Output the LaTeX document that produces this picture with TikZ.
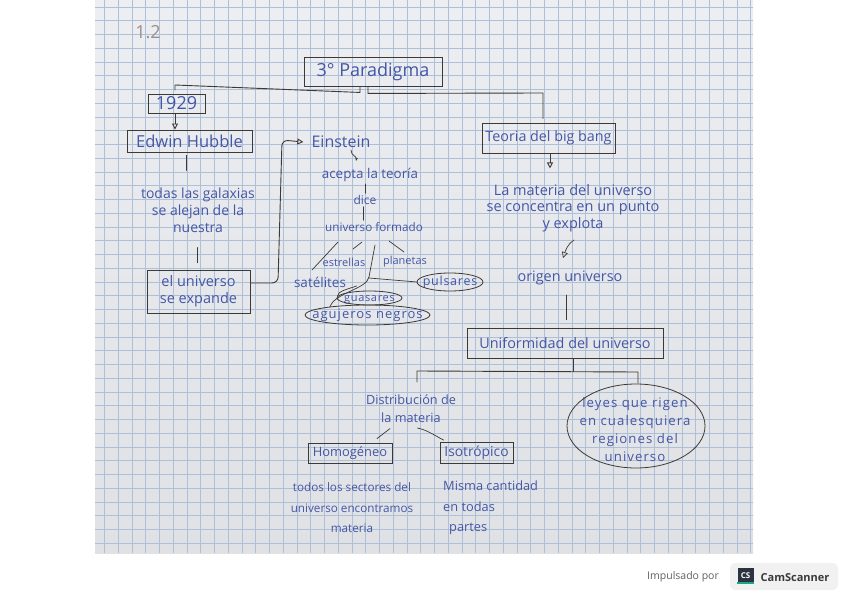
\documentclass[tikz,border=0pt]{standalone}
\usepackage{fontspec}
\setmainfont{Open Sans}
\usetikzlibrary{arrows.meta,shapes.geometric}
\definecolor{ink}{HTML}{4457A6}
\definecolor{pen}{HTML}{3D3935}
\definecolor{pencil}{HTML}{9C8F88}
\definecolor{paperTop}{HTML}{EDEEF1}
\definecolor{paperBot}{HTML}{E0E1E5}
\definecolor{gridc}{HTML}{AEBFD8}
\definecolor{badge}{HTML}{F1F1F1}
\definecolor{csdark}{HTML}{2B3240}
\definecolor{csgreen}{HTML}{1BA784}
\definecolor{camtext}{HTML}{3A3A3A}
\newcommand\hw[2]{\fontsize{#1pt}{#2pt}\selectfont}
\newcommand\wideletters[1]{\addfontfeatures{LetterSpace=#1}}
\tikzset{
  box/.style={draw=pen, line width=0.9pt, inner sep=0pt, text=ink, align=center},
  txt/.style={text=ink, inner sep=0pt, align=center},
  oval/.style={draw=pen, line width=0.8pt},
  con/.style={draw=pen, line width=0.9pt, line cap=round},
  arr/.style={con, -{Triangle[open, length=6pt, width=6pt]}},
  gridline/.style={draw=gridc, line width=0.6pt}
}
\begin{document}
\begin{tikzpicture}[x=1pt,y=-1pt]
\useasboundingbox (0,0) rectangle (848,599);
\fill[white] (0,0) rectangle (848,599);
\fill[top color=paperTop, bottom color=paperBot] (95,0) rectangle (753,553);
\foreach \i in {0,...,47} \draw[gridline] ({104.5+13.75*\i},0) -- ({104.5+13.75*\i},553);
\foreach \j in {0,...,39} \draw[gridline] (95,{7+13.75*\j}) -- (753,{7+13.75*\j});

% nodes
\node[txt, text=pencil, font=\hw{18}{20}] (num) at (148,32) {1.2};
\node[box, minimum width=138pt, minimum height=29pt, font=\hw{18}{20}] (para) at (373,71.5) {3° Paradigma};
\node[box, minimum width=57pt, minimum height=19pt, font=\hw{18}{20}] (y1929) at (176.5,103.5) {1929};
\node[box, minimum width=125pt, minimum height=22pt, font=\hw{16.5}{18}] (hubble) at (189.5,141) {Edwin Hubble};
\node[txt, font=\hw{14}{17}] (galax) at (198,210) {todas las galaxias\\se alejan de la\\nuestra};
\node[box, minimum width=103pt, minimum height=43pt, font=\hw{14.5}{17}] (expande) at (198.5,291.5) {el universo\\se expande};
\node[txt, font=\hw{16}{18}] (einstein) at (341,142) {Einstein};
\node[txt, font=\hw{13.4}{15}] (acepta) at (370,175) {acepta la teoría};
\node[txt, font=\hw{12}{14}] (dice) at (365,200) {dice};
\node[txt, font=\hw{11.7}{13}] (formado) at (374,227) {universo formado};
\node[txt, font=\hw{11}{13}] (estrellas) at (344,262) {estrellas};
\node[txt, font=\hw{11}{13}] (planetas) at (405,262) {planetas};
\node[txt, font=\hw{13.5}{15}] (satelites) at (320,282) {satélites};
\node[txt, font=\hw{12.5}{14}\wideletters{6}] (pulsares) at (450,282) {pulsares};
\node[txt, font=\hw{11}{13}\wideletters{6}] (guasares) at (369.5,299.5) {guasares};
\node[txt, font=\hw{13}{15}\wideletters{8}] (agujeros) at (367.5,315.5) {agujeros negros};
\node[box, minimum width=133pt, minimum height=30pt, font=\hw{14.3}{16}] (bigbang) at (548.5,138) {Teoria del big bang};
\node[txt, font=\hw{14.5}{16.5}] (materia) at (573,208) {La materia del universo\\se concentra en un punto\\y explota};
\node[txt, font=\hw{14.4}{16}] (origen) at (570,278) {origen universo};
\node[box, minimum width=196pt, minimum height=30pt, font=\hw{14.4}{16}] (uniform) at (565,343) {Uniformidad del universo};
\node[txt, font=\hw{12.7}{18}] (distrib) at (411,409) {Distribución de\\la materia};
\node[box, minimum width=84pt, minimum height=20pt, font=\hw{12.9}{14}] (homog) at (350,453) {Homogéneo};
\node[box, minimum width=73pt, minimum height=21pt, font=\hw{13.8}{15}] (isotrop) at (476.5,453) {Isotrópico};
\node[txt, font=\hw{13.2}{17.7}\wideletters{8}] (leyes) at (635,429.5) {leyes que rigen\\en cualesquiera\\regiones del\\universo};
\node[txt, font=\hw{11.7}{20.5}] (sectores) at (352,508) {todos los sectores del\\universo encontramos\\materia};
\node[txt, font=\hw{12.8}{20.5}, align=left, anchor=west] (misma) at (443,508) {Misma cantidad\\en todas\\\hspace*{6pt}partes};

% ellipses around nodes
\draw[oval] (pulsares.center) ellipse [x radius=33pt, y radius=9pt];
\draw[oval] ([yshift=1.5pt]guasares.center) ellipse [x radius=32.5pt, y radius=7pt];
\draw[oval] ([yshift=0.5pt]agujeros.center) ellipse [x radius=62.5pt, y radius=10pt];
\draw[oval] ([xshift=1pt,yshift=3.5pt]leyes.center) ellipse [x radius=69pt, y radius=42pt];

% connectors
\coordinate (lb) at (175,85);
\coordinate (rb) at (543,93);
\draw[con] ([xshift=-13pt]para.south) -- ++(0,6) -- (lb) -- ++(0,5);
\draw[con] ([xshift=-5pt]para.south) -- ++(0,7) -- (rb) -- ([xshift=-5.5pt,yshift=4pt]bigbang.north);
\draw[arr] ([xshift=-1.5pt]y1929.south) -- ([xshift=-1.5pt]y1929.south |- hubble.north);
\draw[con] ([xshift=-3.5pt,yshift=-3pt]hubble.south) -- ++(0,15);
\draw[con] ([xshift=-1.5pt,yshift=7pt]expande.north) -- ++(0,-15);
\draw[arr, rounded corners=6pt] ([yshift=8.5pt]expande.east) -- (278,283) -- (282,140) -- ([xshift=-8pt]einstein.west);
\draw[con, line width=0.7pt, -{Stealth[length=3.5pt]}] (einstein) ++(10,8) .. controls +(0,6) and +(1,-5) .. ++(5,11);
\draw[con, line width=0.7pt, shorten <=2pt, shorten >=2pt] ([xshift=-5pt]acepta.south) -- (dice.north);
\draw[con, line width=0.7pt, shorten <=2pt, shorten >=2pt] ([xshift=-2pt]dice.south) -- ([xshift=-11pt]formado.north);
\draw[con, line width=0.7pt] (formado) ++(-36,15) -- ++(-26,28);
\draw[con, line width=0.7pt] (formado) ++(-12,15) -- ++(-9,7);
\draw[con, line width=0.7pt] (formado) ++(15,14) -- ++(15,11);
\draw[con, line width=0.7pt] (formado) ++(1,18) -- ++(-6,32) .. controls +(-2,12) and +(4,-14) .. ++(-39,30);
\draw[con, line width=0.7pt] (formado) ++(-5,51) -- ([xshift=-33pt]pulsares.center);
\draw[con, line width=0.7pt] (guasares) ++(-13,-13.5) .. controls +(-8,3) and +(0,-5) .. ++(-19,10);
\draw[arr] ([xshift=1.5pt]bigbang.south) -- ++(0,15);
\draw[arr, line width=0.7pt] (materia) ++(1,32) .. controls +(-6,3) and +(2,-6) .. ++(-11,18);
\draw[con] (origen) ++(-4,17) -- ([xshift=1pt,yshift=8pt]uniform.north);
\draw[con] ([xshift=8pt]uniform.south) -- ++(0,13);
\draw[con] (distrib) ++(6,-27) -- ++(0,-11) -- ++(221,1) -- ++(0,11);
\draw[con, line width=0.7pt] (homog.north) ++(40,-14) -- ++(-13,10);
\draw[con, line width=0.7pt] (isotrop.north west) ++(-22,-14) .. controls +(10,2) and +(-8,-4) .. ++(26,12);

% footer
\node[txt, text=camtext!80, font=\hw{10.5}{12}] (impuls) at (683,576.5) {Impulsado por};
\node[fill=badge, rounded corners=5pt, minimum width=108pt, minimum height=27pt, inner sep=0pt] (badgebox) at (784,576.5) {};
\node[fill=csdark, minimum size=16pt, inner sep=0pt, text=white, font=\bfseries\hw{8}{9}] (cslogo) at (745.5,576) {CS};
\fill[csgreen] (cslogo.south west) rectangle ([yshift=2.5pt]cslogo.south east);
\node[txt, text=camtext, font=\bfseries\hw{11}{13}] (camname) at (795,577.5) {CamScanner};
\end{tikzpicture}
\end{document}
